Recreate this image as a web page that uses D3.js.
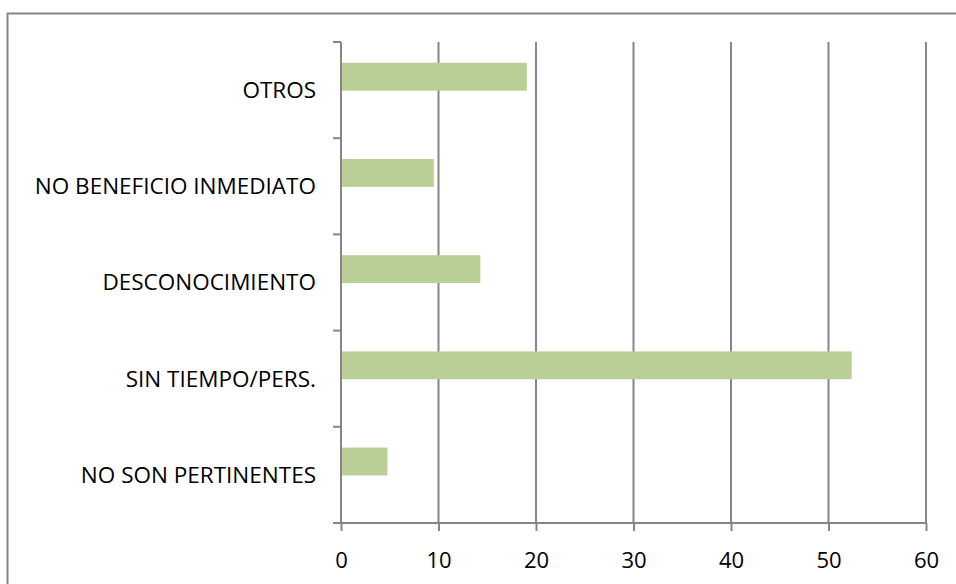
<!DOCTYPE html>
<html>
<head>
<meta charset="utf-8">
<script src="https://cdn.jsdelivr.net/npm/d3@7/dist/d3.min.js"></script>
<style>
  html, body { margin: 0; padding: 0; background: #fff; }
  svg { display: block; }
  text { font-family: "Open Sans", "Liberation Sans", sans-serif; fill: #000; }
</style>
</head>
<body>
<svg id="chart" width="956" height="584"></svg>
<script>
// categories top to bottom
var categories = ["OTROS", "NO BENEFICIO INMEDIATO", "DESCONOCIMIENTO", "SIN TIEMPO/PERS.", "NO SON PERTINENTES"];
var values = [19.05, 9.52, 14.29, 52.38, 4.76];
var xTicks = [0, 10, 20, 30, 40, 50, 60];

var svg = d3.select("#chart");

// outer chart border (runs off the right/bottom edges)
svg.append("rect")
    .attr("x", 7.5).attr("y", 13.5)
    .attr("width", 1000).attr("height", 1000)
    .attr("fill", "none")
    .attr("stroke", "#868686")
    .attr("stroke-width", 2);

var margin = { top: 42, left: 341 };
var plotW = 585, plotH = 481;

var g = svg.append("g")
    .attr("transform", "translate(" + margin.left + "," + margin.top + ")");

var x = d3.scaleLinear().domain([0, 60]).range([0, plotW]);
var y = d3.scaleBand().domain(categories).range([0, plotH]);

// vertical gridlines
g.selectAll(".grid")
    .data(xTicks.slice(1))
    .enter().append("line")
    .attr("x1", function (d) { return x(d); })
    .attr("x2", function (d) { return x(d); })
    .attr("y1", 0).attr("y2", plotH)
    .attr("stroke", "#868686")
    .attr("stroke-width", 2);

// bars (sit in the upper part of each band, as in the original)
g.selectAll(".bar")
    .data(values)
    .enter().append("rect")
    .attr("class", "bar")
    .attr("x", x(0))
    .attr("y", function (d, i) { return y(categories[i]) + y.bandwidth() * 0.216; })
    .attr("width", function (d) { return x(d) - x(0); })
    .attr("height", y.bandwidth() * 0.29)
    .attr("fill", "#bacf96");

// x axis
var xAxis = g.append("g")
    .attr("transform", "translate(0," + plotH + ")")
    .call(d3.axisBottom(x).tickValues(xTicks).tickSize(8).tickPadding(21).tickSizeOuter(0));
xAxis.select(".domain").attr("stroke", "#868686").attr("stroke-width", 2).attr("d", "M-8,0H" + plotW);
xAxis.selectAll(".tick line").attr("stroke", "#868686").attr("stroke-width", 2);
xAxis.selectAll(".tick text").style("font-size", "22px").attr("fill", "#000");

// y axis with ticks at band boundaries
var yAxis = g.append("g");
yAxis.append("line")
    .attr("x1", 0).attr("x2", 0).attr("y1", 0).attr("y2", plotH)
    .attr("stroke", "#868686").attr("stroke-width", 2);
yAxis.selectAll(".ytick")
    .data(categories)
    .enter().append("line")
    .attr("x1", -8).attr("x2", 0)
    .attr("y1", function (d) { return y(d); })
    .attr("y2", function (d) { return y(d); })
    .attr("stroke", "#868686").attr("stroke-width", 2);
yAxis.selectAll(".ylabel")
    .data(categories)
    .enter().append("text")
    .attr("x", -25)
    .attr("y", function (d) { return y(d) + y.bandwidth() / 2; })
    .attr("dy", "0.35em")
    .attr("text-anchor", "end")
    .style("font-size", "22.5px")
    .text(function (d) { return d; });
</script>
</body>
</html>
